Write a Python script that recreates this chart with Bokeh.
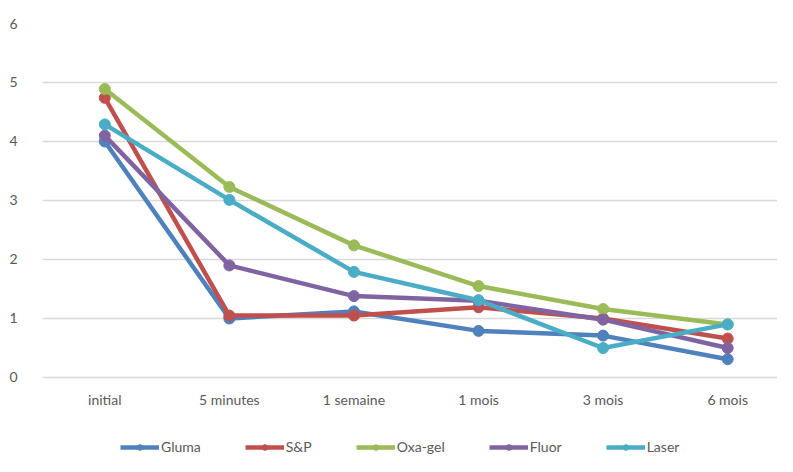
from bokeh.plotting import figure
from bokeh.models import FixedTicker, Legend, LegendItem, Range1d
from bokeh.core.properties import value
from bokeh.embed import file_html
from bokeh.resources import INLINE

categories = ["initial", "5 minutes", "1 semaine", "1 mois", "3 mois", "6 mois"]
gluma = [4.0, 1.0, 1.12, 0.79, 0.71, 0.31]
sp = [4.74, 1.05, 1.05, 1.19, 1.0, 0.66]
oxagel = [4.89, 3.23, 2.24, 1.55, 1.16, 0.9]
fluor = [4.1, 1.9, 1.38, 1.3, 0.98, 0.5]
laser = [4.29, 3.01, 1.79, 1.31, 0.5, 0.9]
y_ticks = [0, 1, 2, 3, 4, 5, 6]

series = [("Gluma", gluma, "#4F81BD"), ("S&P", sp, "#C0504D"),
          ("Oxa-gel", oxagel, "#9BBB59"), ("Fluor", fluor, "#8064A2"),
          ("Laser", laser, "#4BACC6")]

xs = [i + 0.5 for i in range(len(categories))]

p = figure(width=777, height=456, output_backend="svg", toolbar_location=None,
           x_range=Range1d(0, 5.9), y_range=Range1d(-1.339, 6))
p.min_border_left = 42
p.min_border_top = 23
p.min_border_right = 0
p.min_border_bottom = 0
p.outline_line_color = None
p.background_fill_color = "white"
p.border_fill_color = "white"
p.xaxis.visible = False

p.xgrid.grid_line_color = None
p.ygrid.grid_line_color = "#D9D9D9"
p.ygrid.grid_line_width = 1.5

p.yaxis.ticker = FixedTicker(ticks=y_ticks)
p.yaxis.axis_line_color = None
p.yaxis.major_tick_line_color = None
p.yaxis.minor_tick_line_color = None
p.yaxis.major_label_text_font = "Lato"
p.yaxis.major_label_text_font_size = "14px"
p.yaxis.major_label_text_color = "#595959"
p.yaxis.major_label_standoff = 19

# category labels under the x positions
p.text(xs, [-0.37] * len(xs), text=categories, text_align="center",
       text_baseline="middle", text_font=value("Lato"),
       text_font_size="14px", text_color="#595959")

items = []
for name, vals, col in series:
    l = p.line(xs, vals, line_color=col, line_width=4.5)
    c = p.scatter(xs, vals, size=11, fill_color=col, line_color=col)
    items.append(LegendItem(label=name, renderers=[l, c]))

legend = Legend(items=items, orientation="horizontal", location=(78, 1),
                label_text_font="Lato", label_text_font_size="14px",
                label_text_color="#595959", glyph_width=39, glyph_height=14,
                spacing=44, label_standoff=2, padding=2, margin=0,
                border_line_color=None, background_fill_alpha=0)
p.add_layout(legend)

open("out.html", "w").write(file_html(p, INLINE))
